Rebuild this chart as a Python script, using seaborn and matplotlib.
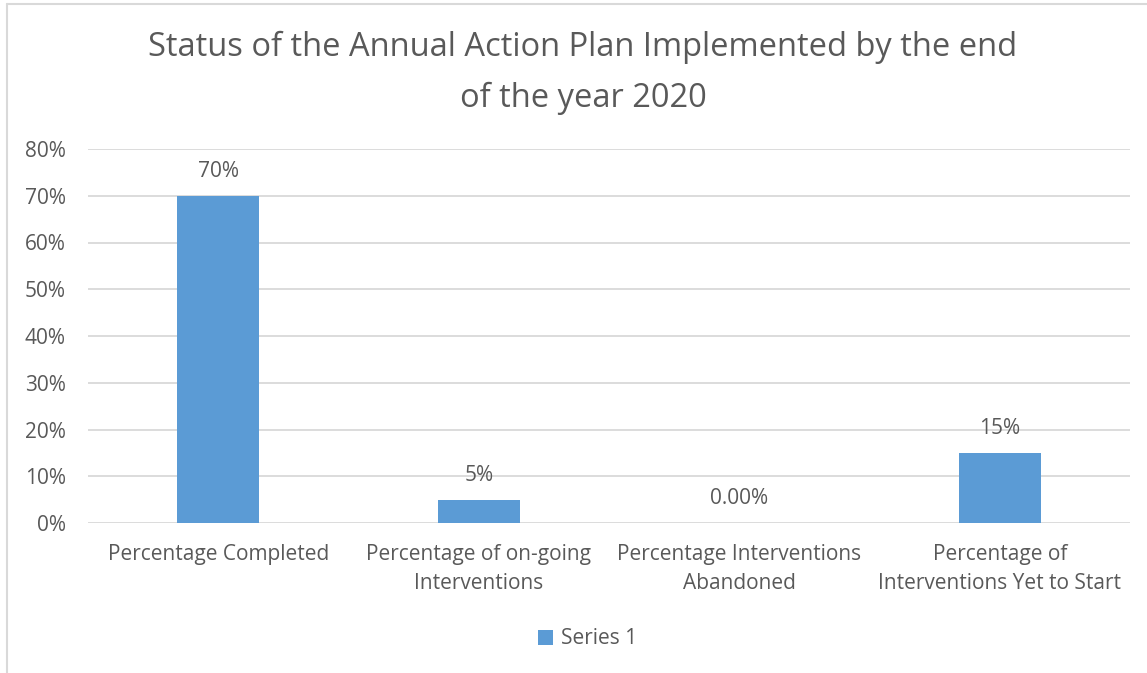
import matplotlib
matplotlib.use("Agg")
import matplotlib.pyplot as plt
import seaborn as sns
import pandas as pd
from matplotlib.lines import Line2D
from matplotlib.patches import Patch

categories = ["Percentage Completed",
              "Percentage of on-going\nInterventions",
              "Percentage Interventions\nAbandoned",
              "Percentage of\nInterventions Yet to Start"]
values = [70, 5, 0, 15]
value_labels = ["70%", "5%", "0.00%", "15%"]
yticks = [0, 10, 20, 30, 40, 50, 60, 70, 80]
ytick_labels = ["0%", "10%", "20%", "30%", "40%", "50%", "60%", "70%", "80%"]
series_name = "Series 1"
title = "Status of the Annual Action Plan Implemented by the end\nof the year 2020"

sns.set_theme(style="white")
plt.rcParams['font.family'] = ['Open Sans', 'DejaVu Sans']

TXT = "#595959"
BAR = "#5B9BD5"
GRID = "#D9D9D9"
FS = 15

W, H = 1147, 673
fig = plt.figure(figsize=(W / 100, H / 100), dpi=100)
ax = fig.add_axes([88 / W, 1 - 523 / H, (1130 - 88) / W, (523 - 149) / H])

df = pd.DataFrame({"cat": categories, "val": values})
sns.barplot(data=df, x="cat", y="val", color=BAR, width=0.315, ax=ax,
            saturation=1, edgecolor="none")

ax.set_ylim(0, 80)
ax.set_xlim(-0.5, len(categories) - 0.5)
ax.set_yticks(yticks)
ax.set_yticklabels(ytick_labels, color=TXT, fontsize=FS)
ax.set_xticks(range(len(categories)))
ax.set_xticklabels(categories, color=TXT, fontsize=FS, linespacing=1.5)
ax.tick_params(axis="both", length=0)
ax.tick_params(axis="x", pad=15)
ax.tick_params(axis="y", pad=16)
ax.set_xlabel("")
ax.set_ylabel("")
for s in ax.spines.values():
    s.set_visible(False)
ax.yaxis.grid(True, color=GRID, linewidth=1.3)
ax.set_axisbelow(True)

for i, (v, lab) in enumerate(zip(values, value_labels)):
    ax.annotate(lab, (i, v), xytext=(0, 17.5), textcoords="offset points",
                ha="center", va="center", color=TXT, fontsize=FS)

fig.text(583 / W, 1 - 73 / H, title, ha="center", va="center",
         fontsize=23.5, color=TXT, linespacing=1.68)

handles = [Patch(facecolor=BAR, edgecolor="none", label=series_name)]
fig.legend(handles=handles, loc="center", bbox_to_anchor=(588 / W, 1 - 639 / H),
           frameon=False, fontsize=FS, labelcolor=TXT, handlelength=0.7,
           handleheight=0.7, handletextpad=0.4)

fig.add_artist(Line2D([7 / W, 1], [1 - 4 / H, 1 - 4 / H], color=GRID,
                      linewidth=1.5, transform=fig.transFigure))
fig.add_artist(Line2D([7 / W, 7 / W], [0, 1 - 4 / H], color=GRID,
                      linewidth=1.5, transform=fig.transFigure))

fig.savefig("out.png", dpi=100, facecolor="white")
